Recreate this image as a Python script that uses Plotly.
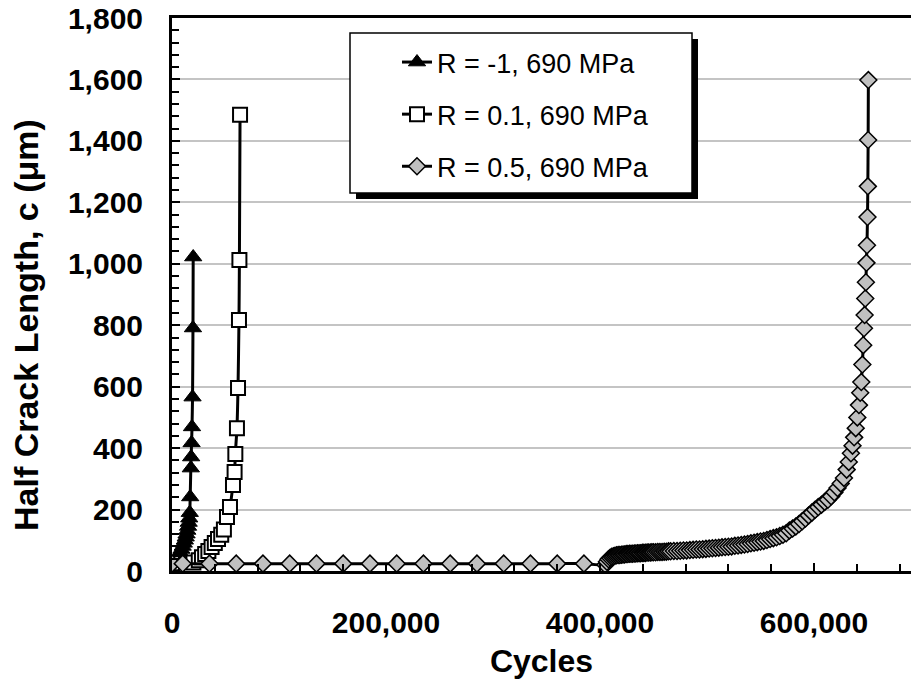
import plotly.graph_objects as go

# ---------------- data ----------------
series_names = ["R = -1, 690 MPa", "R = 0.1, 690 MPa", "R = 0.5, 690 MPa"]

cycles_m1 = [0, 2500, 4500, 6000, 7500, 8800, 10000, 11000, 12000, 12800, 13600, 14300,
             15000, 15600, 16100, 16600, 17000, 17600, 17900, 18300, 18700, 19200, 19600, 19800]
crack_m1 = [25, 30, 40, 50, 60, 70, 80, 90, 100, 110, 120, 132,
            145, 158, 172, 190, 241, 335, 371, 417, 469, 566, 791, 1022]

cycles_01 = [0, 20000, 25000, 28000, 31000, 34000, 37000, 40000, 43000, 46000, 48500,
             51400, 54200, 57000, 58500, 59200, 60700, 61700, 62600, 63000, 63600]
crack_01 = [25, 28, 35, 45, 55, 65, 78, 91, 104, 118, 135,
            176, 208, 280, 322, 381, 465, 596, 817, 1012, 1485]

cycles_05 = [0, 10000, 35000, 60000, 85000, 110000, 135000, 160000, 185000, 210000,
             235000, 260000, 285000, 310000, 335000, 360000, 385000,
             405000, 406500, 408000, 409500, 411000, 412500, 414000, 415500, 417000, 418500,
             420000, 421500, 423000, 424500, 426000, 427500, 429000, 430500, 432000, 433500,
             435000, 436500, 438000, 439500, 441000, 442500, 444000, 445500, 447000, 448500,
             450000, 452000, 454000, 456000, 458000, 460000, 462000, 464000, 466000, 469000,
             472000, 475000, 478000, 481000, 484000, 487000, 490000, 493000, 496000, 499000,
             502000, 505000, 508000, 511000, 514000, 517000, 520000, 523000, 526000, 529000,
             532000, 535000, 538000, 541000, 544000, 547000, 550000, 553000, 556000, 559000,
             562000, 565000, 568000, 571000, 574000, 577000, 580000, 583000, 586000, 589000,
             592000, 595000, 598000, 601000, 604000, 607000, 610000, 613000, 616000, 619000,
             622000, 625000, 628000, 630500, 632500, 634500, 636000, 637500, 639000, 640500,
             642000, 643200, 644200, 645200, 646000, 646700, 647300, 647900, 648500, 649000,
             649500, 650000, 650300, 650600, 650800]
crack_05 = [24, 24, 24, 24, 24, 24, 24, 24, 24, 24,
            24, 24, 24, 24, 24, 24, 24,
            20, 30, 38, 43, 46, 48, 50, 51, 52, 52,
            53, 54, 54, 55, 55, 56, 56, 56, 57, 57,
            58, 58, 58, 59, 59, 59, 60, 60, 60, 61,
            61, 61, 62, 62, 62, 63, 63, 64, 64, 65,
            65, 66, 67, 67, 68, 69, 70, 70, 71, 72,
            73, 74, 75, 76, 77, 78, 79, 80, 82, 83,
            85, 86, 88, 90, 92, 94, 96, 98, 101, 104,
            107, 110, 114, 118, 123, 132, 138, 145, 153, 162,
            171, 181, 190, 199, 208, 216, 225, 232, 243, 256,
            270, 285, 303, 330, 355, 383, 408, 435, 465, 500,
            540, 580, 615, 672, 735, 790, 833, 887, 940, 1003,
            1060, 1152, 1252, 1403, 1598]

x_range = [0, 690650]
y_range = [0, 1800]
x_title = "Cycles"
y_title = "Half Crack Length, c (μm)"

FONT = "Liberation Sans"

# plot area in pixels
L, R_, T, B = 172, 911, 18, 571
W, H = R_ - L, B - T


def px_x(p):
    return (p - L) / W


def px_y(p):
    return (B - p) / H


fig = go.Figure()

fig.add_trace(go.Scatter(
    x=cycles_m1, y=crack_m1, name=series_names[0], legendgroup="g1",
    mode="lines+markers",
    line=dict(color="black", width=3, shape="spline", smoothing=0.6),
    marker=dict(symbol="triangle-up", size=15, color="black",
                line=dict(color="black", width=1)),
))
fig.add_trace(go.Scatter(
    x=cycles_01, y=crack_01, name=series_names[1], legendgroup="g2",
    mode="lines+markers",
    line=dict(color="black", width=3, shape="spline", smoothing=0.6),
    marker=dict(symbol="square", size=14, color="white",
                line=dict(color="black", width=2)),
))
fig.add_trace(go.Scatter(
    x=cycles_05, y=crack_05, name=series_names[2], legendgroup="g3",
    mode="lines+markers",
    line=dict(color="black", width=3, shape="spline", smoothing=0.6),
    marker=dict(symbol="diamond", size=13, color="#c0c0c0",
                line=dict(color="black", width=1.5)),
))

shapes = [
    # legend shadow
    dict(type="rect", xref="paper", yref="paper", layer="above",
         x0=px_x(356), x1=px_x(698), y0=px_y(199), y1=px_y(39),
         fillcolor="black", line=dict(width=0)),
    # legend box
    dict(type="rect", xref="paper", yref="paper", layer="above",
         x0=px_x(350), x1=px_x(692), y0=px_y(193), y1=px_y(33),
         fillcolor="white", line=dict(color="black", width=1.5)),
]

annotations = [
    dict(text=y_title, xref="paper", yref="paper", x=px_x(26), y=px_y(325),
         xanchor="center", yanchor="middle", textangle=-90, showarrow=False,
         font=dict(family=FONT, size=34, weight="bold", color="black")),
]

fig.update_layout(
    width=911, height=688,
    margin=dict(l=L, r=0, t=T, b=688 - B, pad=0),
    paper_bgcolor="white", plot_bgcolor="white",
    font=dict(family=FONT, color="black"),
    showlegend=True,
    legend=dict(x=px_x(397), y=px_y(38), xanchor="left", yanchor="top",
                bgcolor="rgba(0,0,0,0)", borderwidth=0,
                font=dict(family=FONT, size=27, color="black"),
                tracegroupgap=14),
    shapes=shapes,
    annotations=annotations,
    xaxis=dict(
        range=x_range, tick0=0, dtick=200000, tickformat=",",
        ticks="inside", ticklen=8, tickwidth=2, tickcolor="black",
        minor=dict(tick0=0, dtick=40000, ticks="inside", ticklen=7, tickwidth=2,
                   tickcolor="black", showgrid=False),
        showline=True, linecolor="black", linewidth=3, mirror=True,
        showgrid=False, zeroline=False,
        tickfont=dict(family=FONT, size=30, weight="bold", color="black"),
        ticklabelstandoff=23,
        title=dict(text=x_title, font=dict(family=FONT, size=32, weight="bold"),
                   standoff=12),
    ),
    yaxis=dict(
        range=y_range, tick0=0, dtick=200, tickformat=",",
        ticks="inside", ticklen=8, tickwidth=2, tickcolor="black",
        minor=dict(tick0=0, dtick=40, ticks="inside", ticklen=7, tickwidth=2,
                   tickcolor="black", showgrid=False),
        showline=True, linecolor="black", linewidth=3, mirror=False,
        showgrid=True, gridcolor="#c4c4c4", gridwidth=1.5, zeroline=False,
        tickfont=dict(family=FONT, size=30, weight="bold", color="black"),
        ticklabelstandoff=20,
    ),
)

fig.write_html("out.html")
